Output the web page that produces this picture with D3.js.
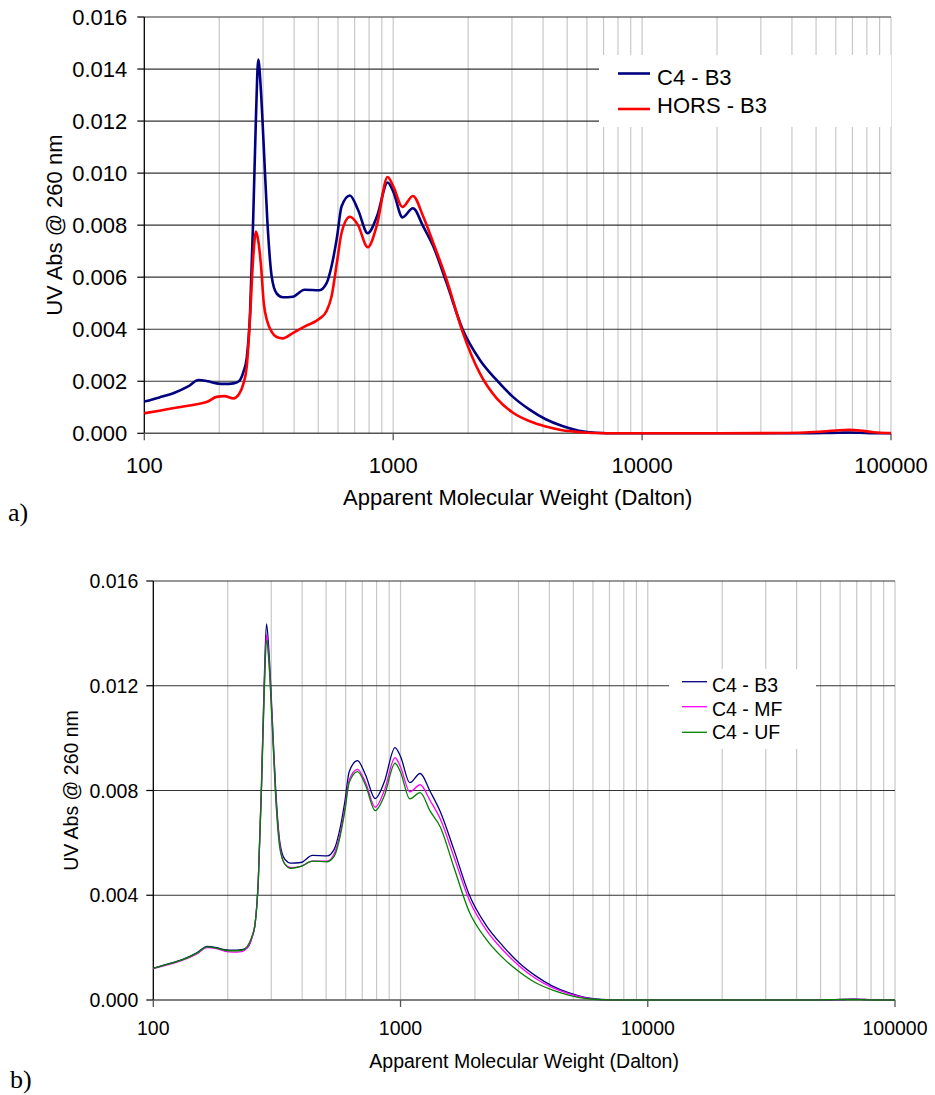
<!DOCTYPE html>
<html>
<head>
<meta charset="utf-8">
<script src="https://cdn.jsdelivr.net/npm/d3@7"></script>
<style>
  body { margin: 0; background: #fff; }
  svg { display: block; }
</style>
</head>
<body>
<div id="chart"></div>
<script>
// apparent molecular weight grid (Dalton)
const mw = [100, 115, 130, 150, 165, 180, 195, 210, 228, 240, 250, 258, 266, 274, 281, 287, 294, 302, 312, 325,
  340, 360, 395, 440, 505, 540, 565, 595, 620, 670, 722, 790, 860, 950, 1000, 1090, 1200, 1320, 1450, 1640,
  1900, 2230, 2600, 3020, 3520, 4100, 4780, 5570, 6500, 8000, 12000, 20000, 35000, 45000, 55000, 62000, 68000,
  75000, 85000, 100000];

// UV absorbance @ 260 nm
const c4B3 = [0.00122, 0.00138, 0.00153, 0.00180, 0.00205, 0.00200, 0.00192, 0.00190, 0.00192, 0.00200, 0.00235,
  0.00290, 0.00460, 0.00833, 0.01218, 0.01436, 0.01320, 0.01100, 0.00820, 0.00602, 0.00538, 0.00523, 0.00525,
  0.00552, 0.00550, 0.00577, 0.00641, 0.00756, 0.00872, 0.00914, 0.00859, 0.00769, 0.00833, 0.00964, 0.00930,
  0.00830, 0.00865, 0.00795, 0.00718, 0.00577, 0.00400, 0.00282, 0.00205, 0.00141, 0.00092, 0.00054, 0.00028,
  0.00010, 0.00002, 0, 0, 0, 0, 0, 0.00001, 0.00002, 0.00003, 0.00002, 0, 0];

const horsB3 = [0.00077, 0.00087, 0.00096, 0.00106, 0.00113, 0.00122, 0.00140, 0.00143, 0.00134, 0.00150, 0.00190,
  0.00256, 0.00448, 0.00679, 0.00775, 0.00740, 0.00650, 0.00500, 0.00430, 0.00390, 0.00370, 0.00365, 0.00385,
  0.00410, 0.00440, 0.00470, 0.00525, 0.00660, 0.00770, 0.00832, 0.00800, 0.00715, 0.00800, 0.00985, 0.00950,
  0.00870, 0.00912, 0.00833, 0.00731, 0.00590, 0.00390, 0.00230, 0.00135, 0.00080, 0.00047, 0.00026, 0.00012,
  0.00005, 0.00001, 0, 0, 0, 0.00001, 0.00003, 0.00008, 0.00012, 0.00013, 0.00011, 0.00004, 0.00001];

const c4MF = [0.00120, 0.00135, 0.00150, 0.00176, 0.00200, 0.00196, 0.00186, 0.00183, 0.00185, 0.00200, 0.00235,
  0.00290, 0.00460, 0.00820, 0.01190, 0.01394, 0.01290, 0.01080, 0.00800, 0.00590, 0.00520, 0.00505, 0.00510,
  0.00530, 0.00530, 0.00560, 0.00620, 0.00730, 0.00840, 0.00881, 0.00830, 0.00736, 0.00800, 0.00925, 0.00890,
  0.00795, 0.00822, 0.00760, 0.00690, 0.00550, 0.00380, 0.00265, 0.00190, 0.00130, 0.00082, 0.00048, 0.00024,
  0.00008, 0.00001, 0, 0, 0, 0, 0, 0.00001, 0.00002, 0.00003, 0.00002, 0, 0];

const c4UF = [0.00121, 0.00137, 0.00152, 0.00179, 0.00203, 0.00198, 0.00190, 0.00188, 0.00190, 0.00205, 0.00240,
  0.00290, 0.00460, 0.00810, 0.01170, 0.01375, 0.01280, 0.01070, 0.00790, 0.00580, 0.00520, 0.00503, 0.00510,
  0.00530, 0.00528, 0.00550, 0.00610, 0.00720, 0.00830, 0.00872, 0.00820, 0.00723, 0.00780, 0.00904, 0.00870,
  0.00768, 0.00792, 0.00720, 0.00660, 0.00510, 0.00335, 0.00230, 0.00160, 0.00108, 0.00066, 0.00039, 0.00019,
  0.00006, 0.00001, 0, 0, 0, 0, 0, 0.00001, 0.00002, 0.00002, 0.00001, 0, 0];

const xTickLabels = [100, 1000, 10000, 100000];
const yTicksA = [0, 0.002, 0.004, 0.006, 0.008, 0.010, 0.012, 0.014, 0.016];
const yTicksB = [0, 0.004, 0.008, 0.012, 0.016];

const svg = d3.select("#chart").append("svg")
  .attr("width", 935)
  .attr("height", 1095);

const sans = "'Liberation Sans', Arial, sans-serif";

const charts = [
  {
    tag: "a)", tagX: 8, tagY: 521, tagSize: 26,
    left: 144.3, right: 891, top: 17, bottom: 433.3,
    yTicks: yTicksA, font: 22, lineW: 2.6,
    yLabelX: 61.5, xTickY: 473, xLabelY: 505, tickGap: 17,
    series: [
      { name: "C4 - B3", values: c4B3, color: "#000080" },
      { name: "HORS - B3", values: horsB3, color: "#ff0000" }
    ],
    legend: { x0: 599, y0: 55, x1: 891, y1: 127, lx0: 618, lx1: 650, tx: 657,
      lineY: [73.5, 109], textY: [85, 112.5] }
  },
  {
    tag: "b)", tagX: 10, tagY: 1088, tagSize: 26,
    left: 153.3, right: 895, top: 581, bottom: 1000,
    yTicks: yTicksB, font: 19.5, lineW: 1.3,
    yLabelX: 78, xTickY: 1035, xLabelY: 1068, tickGap: 15,
    series: [
      { name: "C4 - B3", values: c4B3, color: "#000080" },
      { name: "C4 - MF", values: c4MF, color: "#ff00ff" },
      { name: "C4 - UF", values: c4UF, color: "#008000" }
    ],
    legend: { x0: 669, y0: 669, x1: 816, y1: 749, lx0: 682, lx1: 707, tx: 712,
      lineY: [681.7, 706.7, 732.3], textY: [692.3, 716, 739.3] }
  }
];

charts.forEach(c => {
  const g = svg.append("g");

  const x = d3.scaleLog()
    .domain([100, 100000])
    .range([c.left, c.right]);

  const y = d3.scaleLinear()
    .domain([0, 0.016])
    .range([c.bottom, c.top]);

  // vertical minor gridlines
  g.append("g")
    .selectAll("line")
    .data(x.ticks().filter(d => d > 100))
    .join("line")
    .attr("x1", d => x(d)).attr("x2", d => x(d))
    .attr("y1", c.top).attr("y2", c.bottom)
    .attr("stroke", "#c8c8c8")
    .attr("stroke-width", 1.2);

  // horizontal gridlines
  g.append("g")
    .selectAll("line")
    .data(c.yTicks.filter(d => d > 0))
    .join("line")
    .attr("x1", c.left).attr("x2", c.right)
    .attr("y1", d => y(d)).attr("y2", d => y(d))
    .attr("stroke", "#333")
    .attr("stroke-width", 1.2);

  // legend box hides the grid behind it
  const L = c.legend;
  g.append("rect")
    .attr("x", L.x0).attr("y", L.y0)
    .attr("width", L.x1 - L.x0).attr("height", L.y1 - L.y0)
    .attr("fill", "#fff");

  // axes
  g.append("line")
    .attr("x1", c.left).attr("x2", c.left)
    .attr("y1", c.top).attr("y2", c.bottom)
    .attr("stroke", "#000").attr("stroke-width", 1.3);
  g.append("line")
    .attr("x1", c.left).attr("x2", c.right)
    .attr("y1", c.bottom).attr("y2", c.bottom)
    .attr("stroke", "#555").attr("stroke-width", 1.4);

  g.append("g")
    .selectAll("line")
    .data(c.yTicks)
    .join("line")
    .attr("x1", c.left - 7).attr("x2", c.left)
    .attr("y1", d => y(d)).attr("y2", d => y(d))
    .attr("stroke", "#000").attr("stroke-width", 1.2);

  g.append("g")
    .selectAll("line")
    .data(xTickLabels)
    .join("line")
    .attr("x1", d => x(d)).attr("x2", d => x(d))
    .attr("y1", c.bottom).attr("y2", c.bottom + 7)
    .attr("stroke", "#555").attr("stroke-width", 1.3);

  // tick labels
  g.append("g")
    .selectAll("text")
    .data(c.yTicks)
    .join("text")
    .attr("x", c.left - c.tickGap)
    .attr("y", d => y(d))
    .attr("dy", "0.36em")
    .attr("text-anchor", "end")
    .style("font-family", sans)
    .style("font-size", c.font + "px")
    .text(d3.format(".3f"));

  g.append("g")
    .selectAll("text")
    .data(xTickLabels)
    .join("text")
    .attr("x", d => x(d))
    .attr("y", c.xTickY)
    .attr("text-anchor", "middle")
    .style("font-family", sans)
    .style("font-size", c.font + "px")
    .text(d => d);

  // axis titles
  g.append("text")
    .attr("transform", `translate(${c.yLabelX},${(c.top + c.bottom) / 2}) rotate(-90)`)
    .attr("text-anchor", "middle")
    .style("font-family", sans)
    .style("font-size", c.font + "px")
    .text("UV Abs @ 260 nm");

  g.append("text")
    .attr("x", (c.left + c.right) / 2)
    .attr("y", c.xLabelY)
    .attr("text-anchor", "middle")
    .style("font-family", sans)
    .style("font-size", c.font + "px")
    .text("Apparent Molecular Weight (Dalton)");

  g.append("text")
    .attr("x", c.tagX)
    .attr("y", c.tagY)
    .style("font-family", "'Liberation Serif', 'Times New Roman', serif")
    .style("font-size", c.tagSize + "px")
    .text(c.tag);

  // series lines
  const line = d3.line()
    .x((d, i) => x(mw[i]))
    .y(d => y(d))
    .curve(d3.curveMonotoneX);

  c.series.forEach(s => {
    g.append("path")
      .datum(s.values)
      .attr("fill", "none")
      .attr("stroke", s.color)
      .attr("stroke-width", c.lineW)
      .attr("stroke-linejoin", "round")
      .attr("d", line);
  });

  // legend entries
  c.series.forEach((s, i) => {
    g.append("line")
      .attr("x1", L.lx0).attr("x2", L.lx1)
      .attr("y1", L.lineY[i]).attr("y2", L.lineY[i])
      .attr("stroke", s.color)
      .attr("stroke-width", c.lineW);
    g.append("text")
      .attr("x", L.tx)
      .attr("y", L.textY[i])
      .style("font-family", sans)
      .style("font-size", c.font + "px")
      .text(s.name);
  });
});
</script>
</body>
</html>
